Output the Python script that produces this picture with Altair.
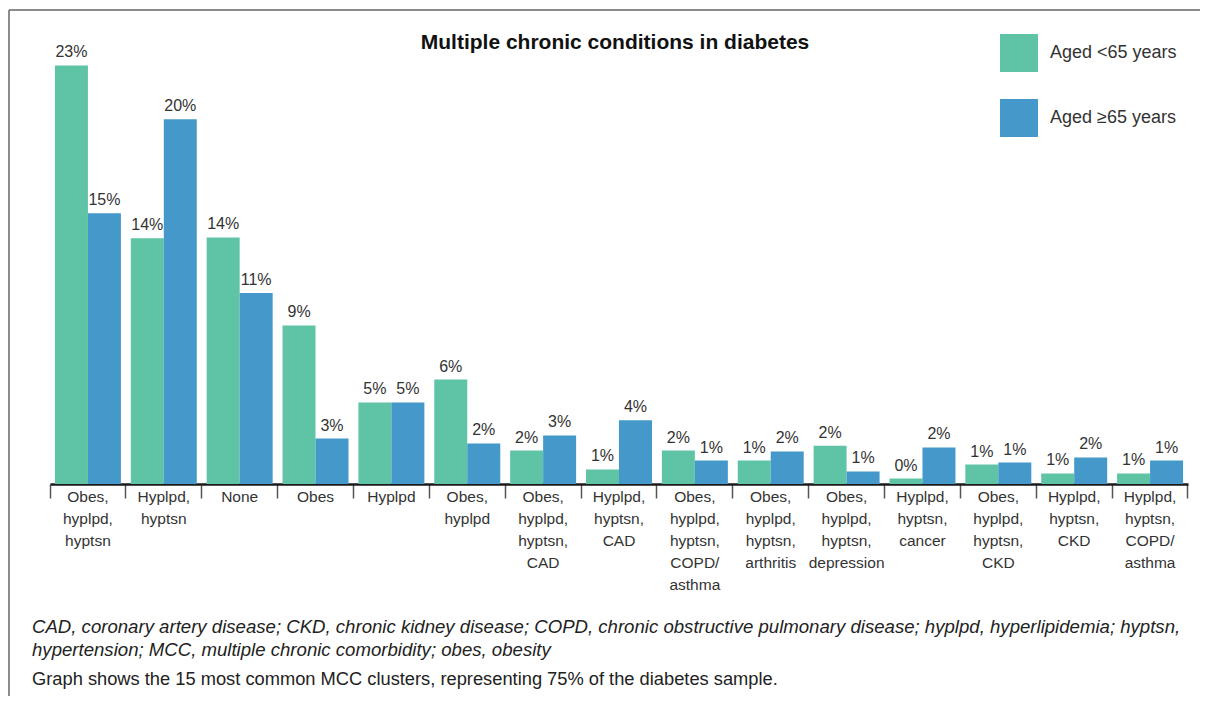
import altair as alt
import pandas as pd

categories = [
    "Obes,\nhyplpd,\nhyptsn",
    "Hyplpd,\nhyptsn",
    "None",
    "Obes",
    "Hyplpd",
    "Obes,\nhyplpd",
    "Obes,\nhyplpd,\nhyptsn,\nCAD",
    "Hyplpd,\nhyptsn,\nCAD",
    "Obes,\nhyplpd,\nhyptsn,\nCOPD/\nasthma",
    "Obes,\nhyplpd,\nhyptsn,\narthritis",
    "Obes,\nhyplpd,\nhyptsn,\ndepression",
    "Hyplpd,\nhyptsn,\ncancer",
    "Obes,\nhyplpd,\nhyptsn,\nCKD",
    "Hyplpd,\nhyptsn,\nCKD",
    "Hyplpd,\nhyptsn,\nCOPD/\nasthma",
]
series = ["Aged <65 years", "Aged \u226565 years"]
under65 = [23.0, 13.5, 13.55, 8.71, 4.48, 5.74, 1.84, 0.80, 1.84, 1.29, 2.10, 0.30, 1.07, 0.58, 0.58]
over65 = [14.87, 20.04, 10.5, 2.5, 4.48, 2.23, 2.67, 3.5, 1.29, 1.79, 0.69, 2.01, 1.18, 1.46, 1.29]
under65_labels = ["23%", "14%", "14%", "9%", "5%", "6%", "2%", "1%", "2%", "1%", "2%", "0%", "1%", "1%", "1%"]
over65_labels = ["15%", "20%", "11%", "3%", "5%", "2%", "3%", "4%", "1%", "2%", "1%", "2%", "1%", "2%", "1%"]

title_text = "Multiple chronic conditions in diabetes"
notes_italic = (
    "CAD, coronary artery disease; CKD, chronic kidney disease; COPD, chronic obstructive pulmonary disease; hyplpd, hyperlipidemia; hyptsn,\n"
    "hypertension; MCC, multiple chronic comorbidity; obes, obesity"
)
note_plain = "Graph shows the 15 most common MCC clusters, representing 75% of the diabetes sample."

colors = ["#5EC4A5", "#4498CA"]

rows = []
for i, c in enumerate(categories):
    rows.append({"cat": c, "group": series[0], "value": under65[i], "label": under65_labels[i]})
    rows.append({"cat": c, "group": series[1], "value": over65[i], "label": over65_labels[i]})
df = pd.DataFrame(rows)
cat_df = pd.DataFrame({"cat": categories})
one = pd.DataFrame({"k": [0]})

W, H = 1138, 455
SANS = "Liberation Sans, Arial, Helvetica, sans-serif"

xenc = alt.X(
    "cat:N", sort=categories, title=None,
    scale=alt.Scale(paddingInner=0, paddingOuter=0),
    axis=alt.Axis(labels=False, bandPosition=1, tickExtra=True, tickSize=14, tickColor="#555555",
                  tickWidth=1.5, domainColor="#1a1a1a", domainWidth=2.5, grid=False),
)
yenc = alt.Y("value:Q", scale=alt.Scale(domain=[0, 25]), axis=None)
xoff = alt.XOffset("group:N", sort=series, scale=alt.Scale(paddingOuter=0.15, paddingInner=0))

base = alt.Chart(df)

bars = base.mark_bar().encode(
    x=xenc, y=yenc, xOffset=xoff,
    color=alt.Color(
        "group:N", sort=series,
        scale=alt.Scale(domain=series, range=colors),
        legend=alt.Legend(
            title=None, orient="none", legendX=950, legendY=5,
            symbolType="square", symbolSize=1444, symbolStrokeWidth=0,
            labelFont=SANS, labelFontSize=18, labelColor="#333333",
            labelOffset=12, rowPadding=27, padding=0,
        ),
    ),
)

bar_labels = base.mark_text(baseline="bottom", dy=-5, font=SANS, fontSize=16, color="#333333").encode(
    x=alt.X("cat:N", sort=categories), y=yenc, xOffset=xoff, text="label:N"
)

cat_labels = alt.Chart(cat_df).mark_text(
    baseline="top", align="center", lineBreak="\n", lineHeight=22,
    font=SANS, fontSize=15.5, color="#333333",
).encode(x=alt.X("cat:N", sort=categories), y=alt.value(H + 6), text="cat:N")

title = alt.Chart(pd.DataFrame({"t": [title_text]})).mark_text(
    font=SANS, fontSize=21, fontWeight="bold", color="#111111", align="center", baseline="alphabetic"
).encode(x=alt.value(565), y=alt.value(20), text="t:N")

note1 = alt.Chart(pd.DataFrame({"t": [notes_italic]})).mark_text(
    font=SANS, fontSize=18.6, fontStyle="italic", color="#222222", align="left", baseline="top",
    lineBreak="\n", lineHeight=23,
).encode(x=alt.value(-18), y=alt.value(H + 134), text="t:N")
note2 = alt.Chart(pd.DataFrame({"t": [note_plain]})).mark_text(
    font=SANS, fontSize=18.3, color="#222222", align="left", baseline="middle"
).encode(x=alt.value(-18), y=alt.value(H + 196), text="t:N")

frame_top = alt.Chart(one).mark_rule(color="#666666", strokeWidth=1.5).encode(
    x=alt.value(-41), x2=alt.value(W + 20), y=alt.value(-19)
)
frame_left = alt.Chart(one).mark_rule(color="#666666", strokeWidth=1.5).encode(
    x=alt.value(-41), y=alt.value(-19), y2=alt.value(H + 215)
)

chart = alt.layer(
    frame_top, frame_left, bars, bar_labels, cat_labels, title, note1, note2
).properties(
    width=W, height=H,
    autosize=alt.AutoSizeParams(type="none"),
    padding={"left": 42, "top": 21, "right": 12, "bottom": 212},
).configure(background="white").configure_view(stroke=None, strokeWidth=0)

chart.save("out.html", embed_options={"renderer": "svg", "actions": False})
